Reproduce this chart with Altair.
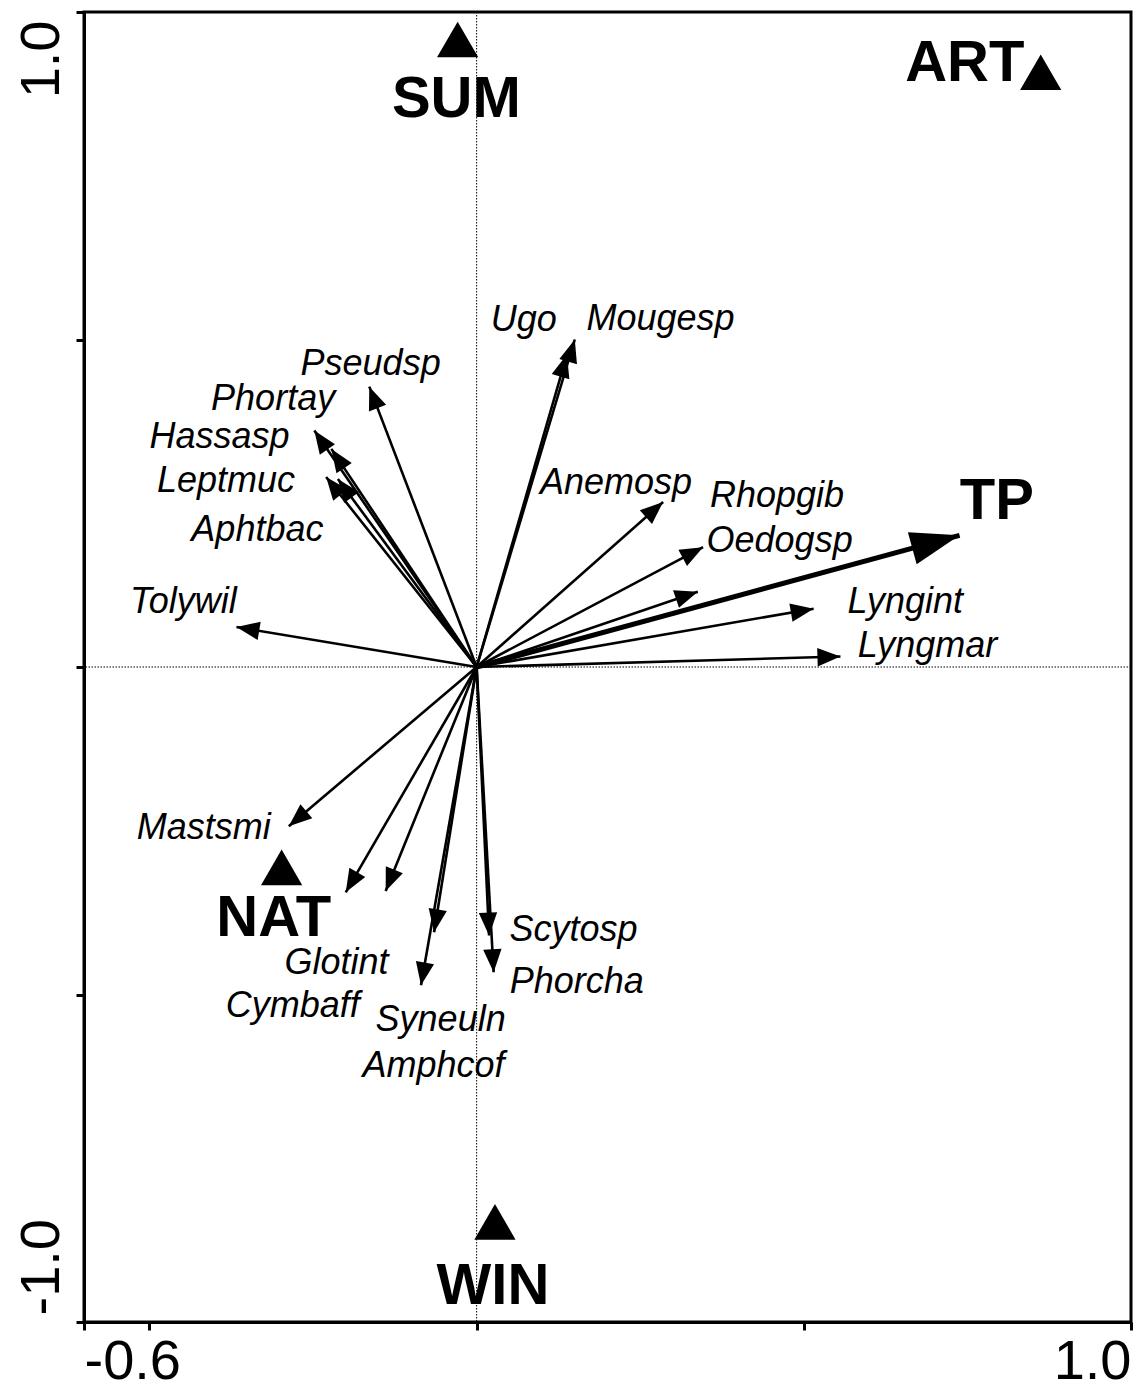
import altair as alt
import numpy as np
import pandas as pd

FONT = "Liberation Sans, Arial, sans-serif"

# ---- species arrows (CCA species scores) ----
species = ["Pseudsp", "Phortay", "Hassasp", "Leptmuc", "Aphtbac", "Tolywil",
           "Ugo", "Mougesp", "Anemosp", "Rhopgib", "Oedogsp", "Lyngint",
           "Lyngmar", "Mastsmi", "Glotint", "Cymbaff", "Syneuln", "Amphcof",
           "Scytosp", "Phorcha"]
sp_x = [-0.164, -0.248, -0.222, -0.230, -0.212, -0.367,
        0.138, 0.150, 0.285, 0.346, 0.338, 0.515,
        0.556, -0.287, -0.139, -0.200, -0.065, -0.085,
        0.019, 0.026]
sp_y = [0.428, 0.361, 0.333, 0.290, 0.287, 0.061,
        0.477, 0.500, 0.252, 0.183, 0.115, 0.089,
        0.016, -0.243, -0.342, -0.344, -0.405, -0.486,
        -0.410, -0.466]
# label anchor (centre, baseline) in axis units
lab_x = [-0.162, -0.311, -0.393, -0.383, -0.335, -0.448,
         0.072, 0.281, 0.213, 0.459, 0.463, 0.655,
         0.689, -0.417, -0.214, -0.281, -0.055, -0.066,
         0.148, 0.153]
lab_y = [0.446, 0.393, 0.335, 0.267, 0.193, 0.082,
         0.513, 0.514, 0.264, 0.244, 0.176, 0.082,
         0.016, -0.263, -0.468, -0.534, -0.555, -0.626,
         -0.418, -0.497]

# ---- quantitative environmental variable ----
env_name = ["TP"]
env_x = [0.738]
env_y = [0.201]
env_lx = [0.795]
env_ly = [0.226]

# ---- nominal variable centroids ----
cent_name = ["SUM", "ART", "NAT", "WIN"]
cent_x = [-0.029, 0.862, -0.298, 0.028]
cent_y = [0.958, 0.908, -0.306, -0.847]
cent_lx = [-0.031, 0.746, -0.310, 0.025]
cent_ly = [0.840, 0.895, -0.410, -0.972]

x_ticks = [-0.6, -0.5, 0.0, 0.5, 1.0]
y_ticks = [-1.0, -0.5, 0.0, 0.5, 1.0]

sp = pd.DataFrame({"name": species, "x": sp_x, "y": sp_y, "lx": lab_x, "ly": lab_y})
sp["x0"] = 0.0
sp["y0"] = 0.0
sp["ang"] = (np.degrees(np.arctan2(sp["x"], sp["y"])) + 360) % 360

env = pd.DataFrame({"name": env_name, "x": env_x, "y": env_y, "lx": env_lx, "ly": env_ly})
env["x0"] = 0.0
env["y0"] = 0.0
env["ang"] = (np.degrees(np.arctan2(env["x"], env["y"])) + 360) % 360

cen = pd.DataFrame({"name": cent_name, "x": cent_x, "y": cent_y, "lx": cent_lx, "ly": cent_ly})

xscale = alt.Scale(domain=[-0.6, 1.0], nice=False, zero=False)
yscale = alt.Scale(domain=[-1.0, 1.0], nice=False, zero=False)

xaxis = alt.Axis(values=x_ticks, title=None, grid=False,
                 labelExpr="datum.value == -0.6 ? '-0.6' : (datum.value == 1 ? '1.0' : '')",
                 labelFlush=True, labelFont=FONT, labelFontSize=56, labelColor="black",
                 labelPadding=4, labelOverlap=False,
                 domainColor="black", domainWidth=3, tickColor="black",
                 tickWidth=3, tickSize=8)
yaxis = alt.Axis(values=y_ticks, title=None, grid=False,
                 labelExpr="datum.value == 1 ? '1.0' : (datum.value == -1 ? '-1.0' : '')",
                 labelAngle=270, labelBaseline="bottom",
                 labelAlign={"condition": {"test": "datum.value > 0", "value": "right"}, "value": "left"},
                 labelOffset={"condition": {"test": "datum.value > 0", "value": 8}, "value": -7},
                 labelFont=FONT, labelFontSize=56, labelColor="black",
                 labelPadding=6, labelOverlap=False,
                 domainColor="black", domainWidth=3, tickColor="black",
                 tickWidth=3, tickSize=8)


def X(f):
    return alt.X(f, type="quantitative", scale=xscale, axis=xaxis)


def Y(f):
    return alt.Y(f, type="quantitative", scale=yscale, axis=yaxis)


HEAD = "M0,0L-0.4,1L0.4,1Z"
BIGHEAD = "M0,0L-0.34,1L0.34,1Z"

zero_v = alt.Chart(pd.DataFrame({"x": [0.0]})).mark_rule(
    color="black", strokeWidth=1, strokeDash=[1.5, 1.5]).encode(x=X("x"))
zero_h = alt.Chart(pd.DataFrame({"y": [0.0]})).mark_rule(
    color="black", strokeWidth=1, strokeDash=[1.5, 1.5]).encode(y=Y("y"))

shafts = alt.Chart(sp).mark_rule(color="black", strokeWidth=2.6).encode(
    x=X("x"), y=Y("y"), x2="x0", y2="y0")
heads = alt.Chart(sp).mark_point(shape=HEAD, filled=True, opacity=1, color="black",
                                 size=2116, strokeWidth=0).encode(
    x=X("x"), y=Y("y"), angle=alt.Angle("ang:Q", scale=None))
sp_text = alt.Chart(sp).mark_text(font=FONT, fontSize=36, fontStyle="italic",
                                  align="center", baseline="alphabetic",
                                  color="black").encode(
    x=X("lx"), y=Y("ly"), text="name:N")

env_shaft = alt.Chart(env).mark_rule(color="black", strokeWidth=5).encode(
    x=X("x"), y=Y("y"), x2="x0", y2="y0")
env_head = alt.Chart(env).mark_point(shape=BIGHEAD, filled=True, opacity=1, color="black",
                                     size=9604, strokeWidth=0).encode(
    x=X("x"), y=Y("y"), angle=alt.Angle("ang:Q", scale=None))
env_text = alt.Chart(env).mark_text(font=FONT, fontSize=58, fontWeight="bold",
                                    align="center", baseline="alphabetic",
                                    color="black").encode(
    x=X("lx"), y=Y("ly"), text="name:N")

cen_pts = alt.Chart(cen).mark_point(shape="triangle-up", filled=True, opacity=1,
                                    color="black", size=1700, strokeWidth=0).encode(
    x=X("x"), y=Y("y"))
cen_text = alt.Chart(cen).mark_text(font=FONT, fontSize=58, fontWeight="bold",
                                    align="center", baseline="alphabetic",
                                    color="black").encode(
    x=X("lx"), y=Y("ly"), text="name:N")

chart = alt.layer(
    zero_v, zero_h, shafts, heads, env_shaft, env_head, cen_pts,
    sp_text, env_text, cen_text
).properties(
    width=1047, height=1310,
    autosize=alt.AutoSizeParams(type="none"),
    padding={"left": 76, "top": 4, "right": 2, "bottom": 69},
    background="white",
).configure_view(stroke="black", strokeWidth=3)

chart.save("out.html", embed_options={"renderer": "svg", "actions": False})
